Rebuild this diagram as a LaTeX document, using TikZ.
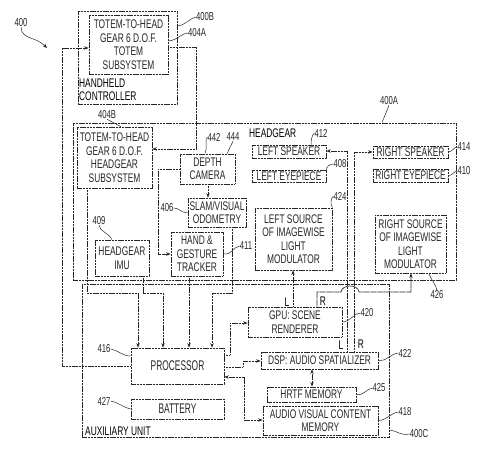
\documentclass[tikz,border=0pt]{standalone}
\usepackage{fontspec}
\setmainfont[FakeStretch=0.67]{Liberation Sans}
\newfontfamily\procfont[FakeStretch=0.6]{Liberation Sans}
\usetikzlibrary{arrows.meta}

\begin{document}
\begin{tikzpicture}[x=1pt,y=-1pt,
    font=\fontsize{12.5}{13.5}\selectfont,
    >={Stealth[length=4.5pt,width=3.5pt]},
    ln/.style={line width=0.7pt,black!85,dash pattern=on 1.1pt off 0.35pt},
    blk/.style={ln,draw,inner sep=1pt,align=center},
    wire/.style={ln,->},
    num/.style={inner sep=0pt,black!85,font=\fontsize{11.5}{12}\selectfont},
    lead/.style={line width=0.5pt,black!85}]
  \useasboundingbox (0,0) rectangle (490,465);

  % units
  \path (127.5,57.5) node[blk,minimum width=99,minimum height=93] (hhc) {};
  \path (264.5,201.5) node[blk,minimum width=383,minimum height=157] (hg) {};
  \path (235.5,360.5) node[blk,minimum width=307,minimum height=153] (aux) {};
  \path (79,101) node[anchor=south west,align=left,inner sep=0pt] (hhcname) {HANDHELD\\CONTROLLER};
  \path (249,133) node[anchor=west,inner sep=0pt] (hgname) {HEADGEAR};
  \path (85,436) node[anchor=south west,inner sep=0pt] (auxname) {AUXILIARY UNIT};

  % blocks
  \path (128.5,44.5) node[blk,minimum width=79,minimum height=59] (totem) {TOTEM-TO-HEAD\\GEAR 6 D.O.F.\\TOTEM\\SUBSYSTEM};
  \path (114.5,157.5) node[blk,minimum width=75,minimum height=61] (hgtotem) {TOTEM-TO-HEAD\\GEAR 6 D.O.F.\\HEADGEAR\\SUBSYSTEM};
  \path (207.5,169) node[blk,minimum width=55,minimum height=30] (depth) {DEPTH\\CAMERA};
  \path (217,212.5) node[blk,minimum width=58,minimum height=29] (slam) {SLAM/VISUAL\\ODOMETRY};
  \path (197,254) node[blk,minimum width=52,minimum height=44] (hand) {HAND \&\\GESTURE\\TRACKER};
  \path (122,258) node[blk,minimum width=54,minimum height=36] (imu) {HEADGEAR\\IMU};
  \path (289,151.5) node[blk,minimum width=74,minimum height=13] (lspk) {LEFT SPEAKER};
  \path (289,176) node[blk,minimum width=74,minimum height=12] (leye) {LEFT EYEPIECE};
  \path (293.5,239) node[blk,minimum width=77,minimum height=62] (lsrc) {LEFT SOURCE\\OF IMAGEWISE\\LIGHT\\MODULATOR};
  \path (410.5,152) node[blk,minimum width=75,minimum height=12] (rspk) {RIGHT SPEAKER};
  \path (410.5,175.5) node[blk,minimum width=75,minimum height=13] (reye) {RIGHT EYEPIECE};
  \path (410.5,244) node[blk,minimum width=71,minimum height=58] (rsrc) {RIGHT SOURCE\\OF IMAGEWISE\\LIGHT\\MODULATOR};
  \path (295,322) node[blk,minimum width=94,minimum height=30] (gpu) {GPU: SCENE\\RENDERER};
  \path (319.5,360.5) node[blk,minimum width=117,minimum height=17] (dsp) {DSP: AUDIO SPATIALIZER};
  \path (311.5,394.5) node[blk,minimum width=89,minimum height=15] (hrtf) {HRTF MEMORY};
  \path (320.5,420.5) node[blk,minimum width=115,minimum height=29] (avm) {AUDIO VISUAL CONTENT\\MEMORY};
  \path (177.5,366) node[blk,minimum width=93,minimum height=36,font=\procfont\fontsize{14}{15}\selectfont] (proc) {PROCESSOR};
  \path (177.5,409) node[blk,minimum width=93,minimum height=20,font=\procfont\fontsize{14}{15}\selectfont] (batt) {BATTERY};

  % connections
  \draw[wire] (proc.west) -| (62,48) -- (totem.west |- 0,48);
  \draw[wire] (totem.east |- 0,47) -| (196,149) -- (hgtotem.east |- 0,149);
  \draw[wire] (depth.south -| 208,0) -- (slam.north -| 208,0);
  \draw[wire] (depth.west) -| (158,254) -- (hand.west);
  \draw[wire] (hgtotem.south -| 87,0) |- (138,293) -- (proc.north -| 138,0);
  \draw[wire] (imu.south -| 143,0) |- (163,293) -- (proc.north -| 163,0);
  \draw[wire] (hand.south -| 189,0) -- (proc.north -| 189,0);
  \draw[wire] (slam.south -| 232,0) |- (212,293) -- (proc.north -| 212,0);
  \draw[wire] (proc.east |- 0,355) -| (230,323) -- (gpu.west |- 0,323);
  \draw[wire] (proc.east |- 0,367) -| (243,361) -- (dsp.west |- 0,361);
  \draw[wire,<->] (proc.east |- 0,377) -| (244,420) -- (avm.west |- 0,420);
  \draw[wire,<->] (dsp.south -| 312,0) -- (hrtf.north -| 312,0);
  \draw[wire] (gpu.north -| 293,0) -- (lsrc.south -| 293,0);
  \draw[wire] (gpu.north -| 317,0) -- (317,292) -- (341,292) .. controls (342,284) and (358,284) .. (359,292) -| (rsrc.south -| 411,0);
  \draw[wire] (dsp.north -| 347,0) |- (lspk.east |- 0,151);
  \draw[wire] (dsp.north -| 354,0) |- (rspk.west |- 0,152);
  \path (287,302) node[inner sep=0pt] (gpuL) {L};
  \path (323,301) node[inner sep=0pt] (gpuR) {R};
  \path (341,345) node[inner sep=0pt] (dspL) {L};
  \path (361,344) node[inner sep=0pt] (dspR) {R};

  % reference numerals
  \coordinate (c400) at (47,48);
  \path (21,23) node[num] (n400) {400};
  \draw[lead,->] (n400.south) .. controls (22,40) and (35,36) .. (c400);
  \path (205,17) node[num] (n400B) {400B};
  \draw[lead] (hhc.east |- 0,26) .. controls (186,25) and (190,18) .. (n400B.west);
  \path (197,33) node[num] (n404A) {404A};
  \draw[lead] (totem.east |- 0,41) .. controls (178,40) and (182,33) .. (n404A.west);
  \path (107,115) node[num] (n404B) {404B};
  \draw[lead] (n404B.south) -- (hgtotem.north -| 121,0);
  \path (389,101) node[num] (n400A) {400A};
  \draw[lead] (n400A.south) -- (hg.north -| 382,0);
  \path (214,137) node[num] (n442) {442};
  \draw[lead] (n442.west) .. controls (204,139) and (208,148) .. (depth.north -| 205,0);
  \path (233,137) node[num] (n444) {444};
  \draw[lead] (n444.south) -- (depth.north -| 227,0);
  \path (167,208) node[num] (n406) {406};
  \draw[lead] (n406.east) .. controls (180,208) and (180,213) .. (slam.west);
  \path (99,221) node[num] (n409) {409};
  \draw[lead] (n409.south) .. controls (100,232) and (108,232) .. (imu.north -| 112,0);
  \path (246,246) node[num] (n411) {411};
  \draw[lead] (hand.east) .. controls (232,255) and (233,247) .. (n411.west);
  \path (321,133) node[num] (n412) {412};
  \draw[lead] (n412.west) .. controls (312,135) and (311,140) .. (lspk.north -| 311,0);
  \path (340,164) node[num] (n408) {408};
  \draw[lead] (n408.west) .. controls (330,164) and (326,167) .. (leye.north east);
  \path (340,196) node[num] (n424) {424};
  \draw[lead] (n424.west) .. controls (331,198) and (330,203) .. (lsrc.north east);
  \path (464,147) node[num] (n414) {414};
  \draw[lead] (rspk.east) .. controls (452,152) and (454,147) .. (n414.west);
  \path (464,171) node[num] (n410) {410};
  \draw[lead] (reye.east) .. controls (452,176) and (454,171) .. (n410.west);
  \path (437,295) node[num] (n426) {426};
  \draw[lead] (rsrc.south -| 429,0) .. controls (432,282) and (436,284) .. (n426.north);
  \path (367,313) node[num] (n420) {420};
  \draw[lead] (gpu.east) .. controls (350,322) and (354,313) .. (n420.west);
  \path (405,353) node[num] (n422) {422};
  \draw[lead] (dsp.east) .. controls (388,361) and (390,354) .. (n422.west);
  \path (379,388) node[num] (n425) {425};
  \draw[lead] (hrtf.east) .. controls (364,396) and (366,389) .. (n425.west);
  \path (405,412) node[num] (n418) {418};
  \draw[lead] (avm.east) .. controls (388,420) and (390,413) .. (n418.west);
  \path (419,434) node[num] (n400C) {400C};
  \draw[lead] (aux.east |- 0,430) .. controls (396,430) and (400,436) .. (n400C.west);
  \path (104,349) node[num] (n416) {416};
  \draw[lead] (n416.east) .. controls (118,350) and (122,356) .. (proc.west |- 0,356);
  \path (104,401) node[num] (n427) {427};
  \draw[lead] (n427.east) .. controls (118,402) and (122,407) .. (batt.west);
\end{tikzpicture}
\end{document}
